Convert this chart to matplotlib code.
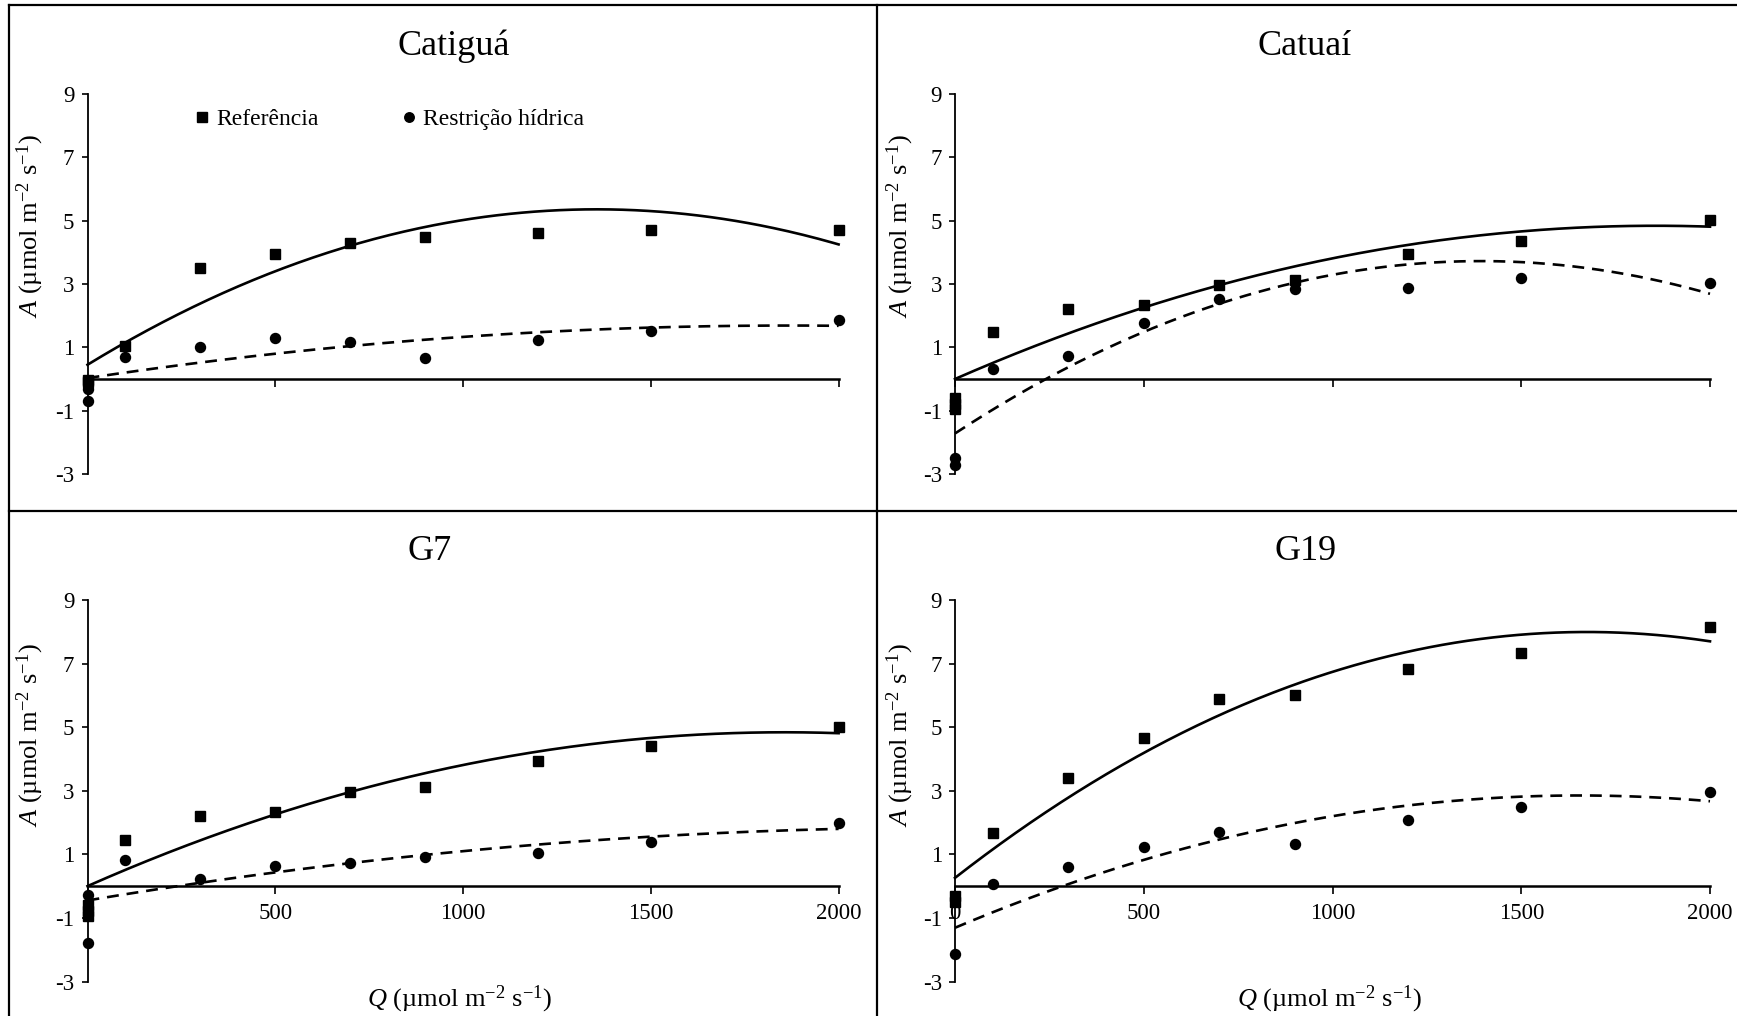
import matplotlib
matplotlib.use("Agg")
import matplotlib.pyplot as plt
import numpy as np
from matplotlib.lines import Line2D

plt.rcParams['font.family'] = ['Liberation Serif', 'DejaVu Serif']
plt.rcParams['mathtext.fontset'] = 'custom'
plt.rcParams['mathtext.rm'] = 'Liberation Serif'
plt.rcParams['mathtext.it'] = 'Liberation Serif:italic'
plt.rcParams['axes.unicode_minus'] = False

# densidade de fluxo de fótons (Q)
Q = [0, 100, 300, 500, 700, 900, 1200, 1500, 2000]

cultivares = ["Catiguá", "Catuaí", "G7", "G19"]

# A em cada Q - Referência
ref_catigua = [-0.02, 1.03, 3.52, 3.94, 4.31, 4.47, 4.60, 4.72, 4.70]
ref_catuai = [-0.60, 1.47, 2.20, 2.34, 2.97, 3.13, 3.94, 4.37, 5.02]
ref_g7 = [-0.60, 1.45, 2.20, 2.33, 2.96, 3.11, 3.95, 4.40, 5.00]
ref_g19 = [-0.30, 1.68, 3.41, 4.66, 5.89, 6.00, 6.83, 7.32, 8.16]

# A em cada Q - Restrição hídrica
res_catigua = [-0.31, 0.71, 1.00, 1.31, 1.17, 0.65, 1.24, 1.53, 1.85]
res_catuai = [-2.49, 0.31, 0.73, 1.78, 2.53, 2.85, 2.87, 3.18, 3.02]
res_g7 = [-0.29, 0.81, 0.21, 0.63, 0.73, 0.92, 1.05, 1.39, 1.97]
res_g19 = [-2.12, 0.07, 0.60, 1.23, 1.70, 1.31, 2.08, 2.49, 2.96]

# leituras extras no escuro (Q = 0)
ref0_catigua = [-0.10]
ref0_catuai = [-0.78, -0.95]
ref0_g7 = [-0.78, -0.95]
ref0_g19 = [-0.50]
res0_catigua = [-0.70]
res0_catuai = [-2.73]
res0_g7 = [-1.78]
res0_g19 = []

# linhas de tendência polinomiais (a, b, c): A = aQ² + bQ + c
fit_ref = [[-2.67e-6, 7.24e-3, 0.45],
           [-1.405e-6, 5.215e-3, 0.0],
           [-1.405e-6, 5.215e-3, 0.0],
           [-2.76e-6, 9.24e-3, 0.26]]
fit_res = [[-4.75e-7, 1.775e-3, 0.03],
           [-2.805e-6, 7.815e-3, -1.72],
           [-4.25e-7, 1.975e-3, -0.45],
           [-1.52e-6, 5.03e-3, -1.31]]

refs = [ref_catigua, ref_catuai, ref_g7, ref_g19]
ress = [res_catigua, res_catuai, res_g7, res_g19]
refs0 = [ref0_catigua, ref0_catuai, ref0_g7, ref0_g19]
ress0 = [res0_catigua, res0_catuai, res0_g7, res0_g19]

W, H = 1737, 1016
fig = plt.figure(figsize=(W / 100, H / 100), dpi=100)

# posições dos eixos em pixels: (esquerda, topo, direita, base)
caixas = [(87.5, 94, 838.6, 474), (955, 94, 1710, 474),
          (87.5, 600, 838.6, 981.5), (955, 600, 1710, 981.5)]
titulos_pos = [(454, 46.5), (1305, 46.5), (430, 551.7), (1306, 551.7)]
ylab_pos = [(30, 226), (900, 226), (30, 735), (900, 735)]
xlab_pos = [(460, 999), (1329.5, 999)]

qq = np.linspace(0, 2000, 300)

for i, nome in enumerate(cultivares):
    l, t, r, b = caixas[i]
    ax = fig.add_axes([l / W, 1 - b / H, (r - l) / W, (b - t) / H])
    ax.set_xlim(0, 2000)
    ax.set_ylim(-3, 9)
    ax.spines['top'].set_visible(False)
    ax.spines['right'].set_visible(False)
    ax.spines['bottom'].set_position(('data', 0))
    ax.spines['left'].set_linewidth(1.3)
    ax.spines['bottom'].set_linewidth(1.8)
    ax.set_yticks([-3, -1, 1, 3, 5, 7, 9])
    ax.set_xticks([0, 500, 1000, 1500, 2000])
    ax.tick_params(axis='y', direction='out', length=4.5, width=1.2,
                   pad=5, labelsize=16.5)
    ax.tick_params(axis='x', direction='out', length=5.5, width=1.2,
                   pad=7, labelsize=16.5)
    if i < 2:
        ax.set_xticklabels([])

    ax.plot(qq, np.polyval(fit_ref[i], qq), color='black', lw=1.9,
            clip_on=False)
    ax.plot(qq, np.polyval(fit_res[i], qq), color='black', lw=1.9,
            linestyle=(0, (4.5, 3)), clip_on=False)

    ax.plot(Q + [0] * len(refs0[i]), refs[i] + refs0[i], 's',
            color='black', ms=7.8, clip_on=False, label='Referência',
            zorder=5)
    ax.plot(Q + [0] * len(ress0[i]), ress[i] + ress0[i], 'o',
            color='black', ms=7.2, clip_on=False, label='Restrição hídrica',
            zorder=5)

    if i == 0:
        ax.legend(loc='center left', bbox_to_anchor=(0.1405, 0.934),
                  ncol=2, frameon=False, fontsize=17, handlelength=0.8,
                  handletextpad=0.2, columnspacing=3.4, borderpad=0,
                  borderaxespad=0, markerscale=0.95)

    tx, ty = titulos_pos[i]
    fig.text(tx / W, 1 - ty / H, nome, ha='center', va='center', fontsize=26)
    yx, yy = ylab_pos[i]
    fig.text(yx / W, 1 - yy / H, r'$\it{A}$ (µmol m$^{-2}$ s$^{-1}$)',
             rotation=90, ha='center', va='center', fontsize=19)

for xx, yy in xlab_pos:
    fig.text(xx / W, 1 - yy / H, r'$\it{Q}$ (µmol m$^{-2}$ s$^{-1}$)',
             ha='center', va='center', fontsize=19)

# molduras
def linha(x0, y0, x1, y1):
    fig.add_artist(Line2D([x0 / W, x1 / W], [1 - y0 / H, 1 - y1 / H],
                          color='black', lw=1.6))

linha(9, 5, W, 5)
linha(9, 5, 9, H)
linha(877, 5, 877, H)
linha(9, 511, W, 511)

fig.savefig("out.png", dpi=100)
